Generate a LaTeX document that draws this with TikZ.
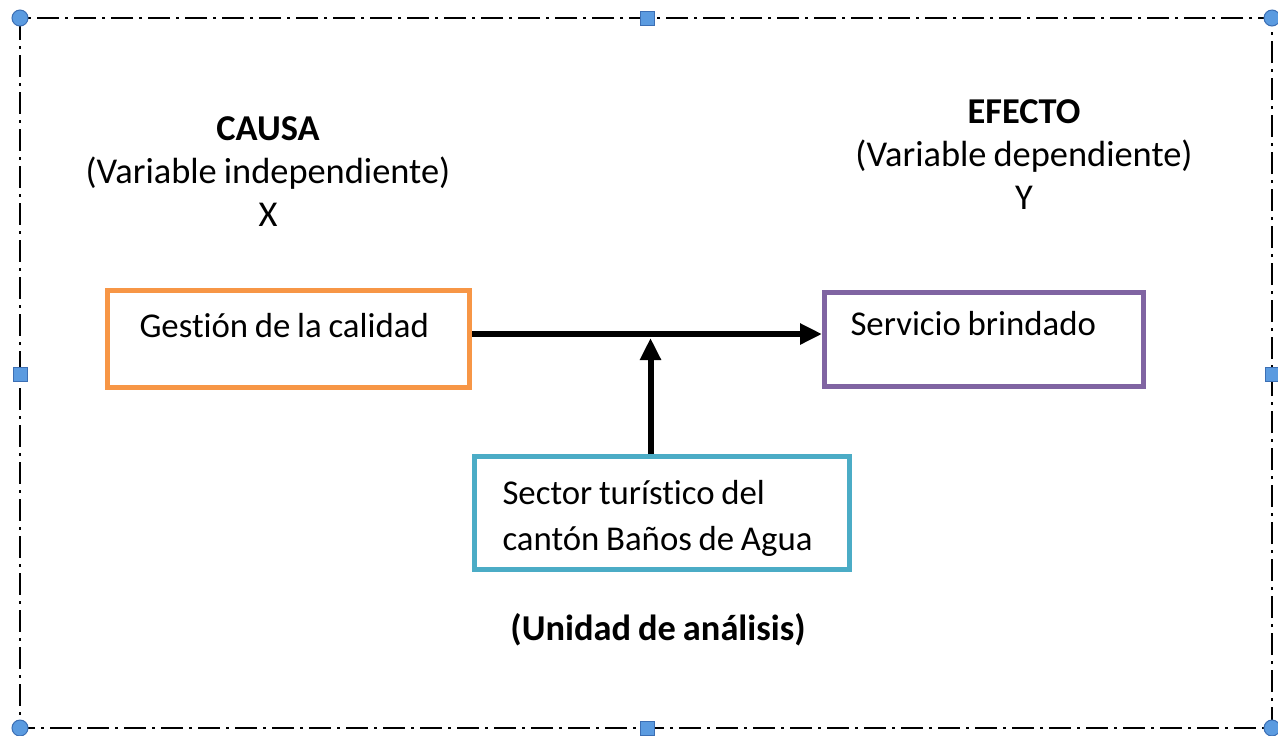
\documentclass[tikz,border=0pt]{standalone}
\usepackage{fontspec}
\setmainfont{Carlito}[Ligatures=NoCommon, WordSpace=0.85]
\usepackage{xcolor}
\usepackage{tikz}
\usetikzlibrary{arrows.meta,calc,positioning}
\definecolor{boxorange}{HTML}{F79646}
\definecolor{boxpurple}{HTML}{8064A2}
\definecolor{boxteal}{HTML}{4BACC6}
\definecolor{handlefill}{HTML}{5B9BE0}
\definecolor{handleline}{HTML}{3C6FB4}

\begin{document}
\begin{tikzpicture}[
    x=0.5pt, y=-0.5pt,
    font=\fontsize{17.4pt}{23pt}\selectfont,
    frame/.style={line width=1pt, dash pattern=on 11pt off 3pt on 1.5pt off 3pt},
    cornerhandle/.style={circle, fill=handlefill, draw=handleline, line width=0.5pt, inner sep=0, minimum size=8pt},
    sidehandle/.style={rectangle, fill=handlefill, draw=handleline, line width=0.5pt, inner sep=0, minimum size=7pt},
    heading/.style={align=flush center, inner sep=0, font=\fontsize{18.2pt}{21.5pt}\selectfont},
    varbox/.style={rectangle, draw, line width=2.5pt, anchor=north west, align=flush left, inner ysep=0},
    flow/.style={line width=3pt, -{Triangle[length=11pt, width=10pt]}}]
\useasboundingbox (0,0) rectangle (1278,735);

% selection frame
\draw[frame] (20,18) rectangle (1272,728);
\foreach \hx/\hy [count=\i] in {20/18, 1272/18, 20/728, 1272/728}
    \node[cornerhandle] (corner\i) at (\hx,\hy) {};
\foreach \hx/\hy [count=\i] in {647/18, 20/374, 1272/374, 647/728}
    \node[sidehandle] (side\i) at (\hx,\hy) {};

% headings
\node[heading] (causa) at (268,172) {\textbf{CAUSA}\\(Variable independiente)\\X};
\node[heading] (efecto) at (1024,155) {\textbf{EFECTO}\\(Variable dependiente)\\Y};

% variables
\node[varbox, draw=boxorange, inner xsep=16pt, text width=149pt, text height=23.5pt, text depth=25pt]
    (gestion) at (105,288) {Gestión de la calidad};
\node[varbox, draw=boxpurple, inner xsep=13pt, text width=133.5pt, text height=21.75pt, text depth=25.5pt]
    (servicio) at (822,289.5) {Servicio brindado};
\node[varbox, draw=boxteal, inner xsep=14pt, text width=159.5pt, text height=24pt, text depth=32.5pt]
    (sector) at (472,454) {Sector turístico del\\cantón Baños de Agua};

\node[heading] (unidad) at (658,630) {\textbf{(Unidad de análisis)}};

% connectors
\coordinate (flowstart) at ([yshift=2.5pt]gestion.east);
\coordinate (flowend) at (flowstart -| servicio.west);
\coordinate (join) at ($(flowstart)!0.51!(flowend) + (0,4)$);
\draw[flow] (flowstart) -- (flowend);
\draw[flow] (sector.north -| join) -- (join);

\end{tikzpicture}
\end{document}
